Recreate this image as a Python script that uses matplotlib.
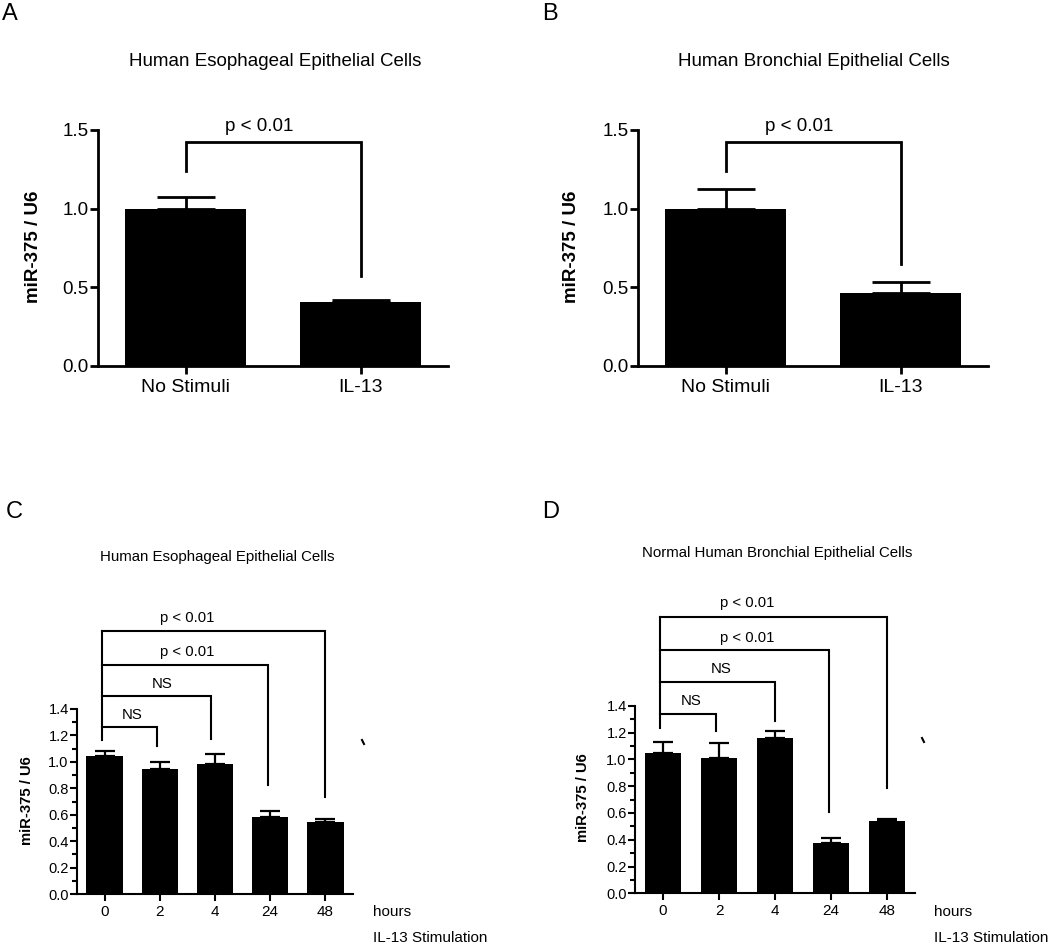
import matplotlib
matplotlib.use("Agg")
import matplotlib.pyplot as plt
from matplotlib.lines import Line2D
from matplotlib.ticker import MultipleLocator

plt.rcParams['font.family'] = ['Liberation Sans', 'DejaVu Sans']

W, H = 1050, 944

# ---------------- data ----------------
ab_categories = ["No Stimuli", "IL-13"]
a_values = [1.00, 0.405]
a_errors = [0.077, 0.015]
b_values = [0.997, 0.466]
b_errors = [0.126, 0.068]

cd_categories = ["0", "2", "4", "24", "48"]
c_values = [1.045, 0.949, 0.985, 0.585, 0.542]
c_errors = [0.040, 0.051, 0.073, 0.045, 0.028]
d_values = [1.049, 1.012, 1.157, 0.373, 0.540]
d_errors = [0.082, 0.110, 0.052, 0.042, 0.014]

title_a = "Human Esophageal Epithelial Cells"
title_b = "Human Bronchial Epithelial Cells"
title_c = "Human Esophageal Epithelial Cells"
title_d = "Normal Human Bronchial Epithelial Cells"
ylabel = "miR-375 / U6"

# brackets: (height, right x, right bottom), labels: (text, x, y)
a_bracket = dict(left_bottom=1.24, height=1.424, right_x=1.0, right_bottom=0.572)
b_bracket = dict(left_bottom=1.24, height=1.424, right_x=1.0, right_bottom=0.648)
a_label = ("p < 0.01", 0.42, 1.52)
b_label = ("p < 0.01", 0.42, 1.52)

c_left = dict(x=-0.04, bottom=1.167)
c_heights = [1.267, 1.50, 1.732, 1.992]
c_right_x = [0.95, 1.92, 2.96, 3.99]
c_right_bottom = [1.12, 1.174, 0.826, 0.736]
c_texts = ["NS", "NS", "p < 0.01", "p < 0.01"]
c_text_x = [0.5, 1.04, 1.5, 1.5]
c_text_y = [1.356, 1.59, 1.83, 2.09]

d_left = dict(x=-0.05, bottom=1.236)
d_heights = [1.338, 1.575, 1.816, 2.064]
d_right_x = [0.94, 1.995, 2.96, 4.0]
d_right_bottom = [1.213, 1.288, 0.609, 0.784]
d_texts = ["NS", "NS", "p < 0.01", "p < 0.01"]
d_text_x = [0.5, 1.04, 1.51, 1.51]
d_text_y = [1.437, 1.672, 1.903, 2.164]

fig = plt.figure(figsize=(W / 100, H / 100), dpi=100)


def add_ax(left, right, top, bottom):
    return fig.add_axes([left / W, 1 - bottom / H, (right - left) / W, (bottom - top) / H])


def style(ax, lw, tl, fs_y, fs_x, pad):
    for s in ['top', 'right']:
        ax.spines[s].set_visible(False)
    for s in ['left', 'bottom']:
        ax.spines[s].set_linewidth(lw)
    ax.tick_params(axis='both', which='major', width=lw, length=tl, direction='out')
    ax.tick_params(axis='y', labelsize=fs_y, pad=1)
    ax.tick_params(axis='x', labelsize=fs_x, pad=pad)


def ftext(x, y, s, **kw):
    fig.text(x / W, 1 - y / H, s, **kw)


# ---------------- panels A & B ----------------
for (left, right, vals, errs, br, lab, title, tx, lx, letter, letx) in [
    (98, 448, a_values, a_errors, a_bracket, a_label, title_a, 275, 33, "A", 10),
    (638, 988, b_values, b_errors, b_bracket, b_label, title_b, 814, 572, "B", 550),
]:
    ax = add_ax(left, right, 130, 366)
    x = list(range(len(ab_categories)))
    ax.bar(x, vals, width=0.69, color='black', zorder=2)
    ax.errorbar(x, vals, yerr=[[0] * len(errs), errs], fmt='none', ecolor='black',
                elinewidth=2, capsize=21, capthick=2, zorder=1)
    ax.set_xlim(-0.5, 1.5)
    ax.set_ylim(0, 1.5)
    ax.set_yticks([0.0, 0.5, 1.0, 1.5])
    ax.set_yticklabels(["0.0", "0.5", "1.0", "1.5"])
    ax.set_xticks(x)
    ax.set_xticklabels(ab_categories)
    style(ax, 2.0, 6, 13.5, 14, 3)
    ax.plot([0, 0, br['right_x'], br['right_x']],
            [br['left_bottom'], br['height'], br['height'], br['right_bottom']],
            color='black', lw=2.0, clip_on=False, solid_joinstyle='miter')
    ax.text(lab[1], lab[2], lab[0], ha='center', va='center', fontsize=13.5, clip_on=False)
    ftext(tx, 61, title, ha='center', va='center', fontsize=13.5)
    ftext(lx, 247, ylabel, ha='center', va='center', rotation=90, fontsize=13.5,
          fontweight='bold')
    ftext(letx, 14, letter, ha='center', va='center', fontsize=17)

# ---------------- panels C & D ----------------
for (left, right, top, bottom, vals, errs, lf, hs, rx, rb, txts, txx, txy,
     title, tcx, tcy, lx, ly, letter, letx, hx) in [
    (77, 353, 709, 894, c_values, c_errors, c_left, c_heights, c_right_x, c_right_bottom,
     c_texts, c_text_x, c_text_y, title_c, 217.5, 557, 27, 801, "C", 14, 373),
    (635, 915, 705.7, 893.3, d_values, d_errors, d_left, d_heights, d_right_x, d_right_bottom,
     d_texts, d_text_x, d_text_y, title_d, 777, 553, 583, 798, "D", 551, 934),
]:
    ax = add_ax(left, right, top, bottom)
    x = list(range(len(cd_categories)))
    ax.bar(x, vals, width=0.66, color='black', zorder=2)
    ax.errorbar(x, vals, yerr=[[0] * len(errs), errs], fmt='none', ecolor='black',
                elinewidth=1.6, capsize=7.5, capthick=1.6, zorder=1)
    ax.set_xlim(-0.5, 4.5)
    ax.set_ylim(0, 1.4)
    ax.yaxis.set_major_locator(MultipleLocator(0.2))
    ax.yaxis.set_minor_locator(MultipleLocator(0.1))
    ax.yaxis.set_major_formatter(matplotlib.ticker.FormatStrFormatter('%.1f'))
    ax.set_xticks(x)
    ax.set_xticklabels(cd_categories)
    style(ax, 1.5, 5, 10.5, 11, 3)
    ax.tick_params(axis='y', which='minor', width=1.5, length=3.4)
    ax.plot([lf['x'], lf['x']], [lf['bottom'], max(hs)], color='black', lw=1.5,
            clip_on=False)
    for h, xr, yb in zip(hs, rx, rb):
        ax.plot([lf['x'], xr, xr], [h, h, yb], color='black', lw=1.5, clip_on=False,
                solid_joinstyle='miter')
    for s, tx_, ty_ in zip(txts, txx, txy):
        ax.text(tx_, ty_, s, ha='center', va='center', fontsize=10.7, clip_on=False)
    ftext(tcx, tcy, title, ha='center', va='center', fontsize=10.8)
    ftext(lx, ly, ylabel, ha='center', va='center', rotation=90, fontsize=10.7,
          fontweight='bold')
    ftext(letx, 512, letter, ha='center', va='center', fontsize=17)
    ftext(hx, 911.5, "hours", ha='left', va='center', fontsize=11)
    ftext(hx, 938, "IL-13 Stimulation", ha='left', va='center', fontsize=11)

# small stray marks present in the original
for (px, py) in [(363, 742), (923, 740)]:
    fig.add_artist(Line2D([(px - 1) / W, (px + 1) / W], [1 - (py - 2) / H, 1 - (py + 2) / H],
                          color='black', lw=1.5))

fig.savefig("out.png", dpi=100)
